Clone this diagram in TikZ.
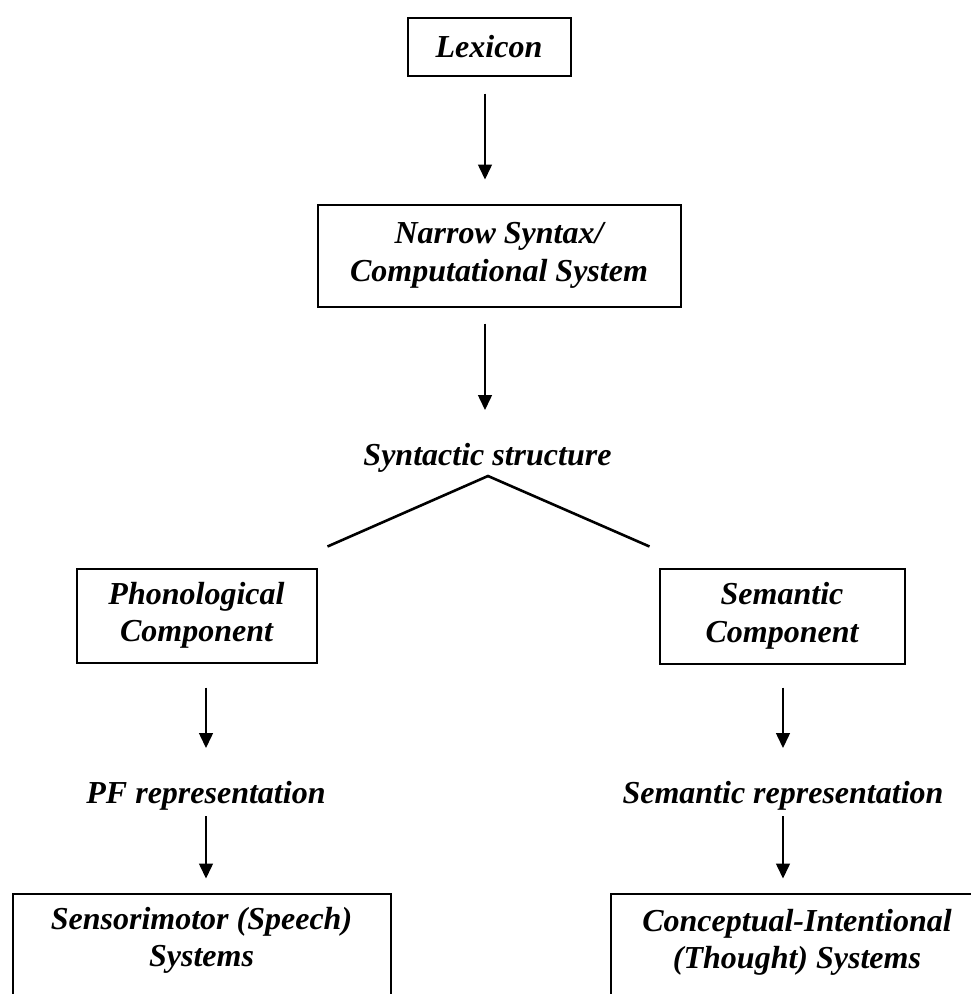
\documentclass[tikz,border=0pt]{standalone}
\usepackage{fontspec}
\setmainfont{Liberation Serif}
\usetikzlibrary{arrows.meta}
\begin{document}
\begin{tikzpicture}[x=1pt,y=-1pt,
  lbl/.style={font=\fontsize{32}{37.5}\selectfont\bfseries\itshape, align=center, inner sep=0pt},
  box/.style={lbl, draw, line width=2pt},
  arr/.style={line width=1.5pt, -{Triangle[length=15pt,width=14pt]}},
  branch/.style={line width=2.6pt},
]
\useasboundingbox (0,0) rectangle (971,994);

% boxes of the derivation
\node[box, minimum width=163pt, minimum height=58pt] (lex) at (489,46.5) {Lexicon};
\node[box, minimum width=363pt, minimum height=102pt] (ns) at (499,255.5) {Narrow Syntax/\\Computational System};
\node[box, minimum width=240pt, minimum height=94pt] (phon) at (196.5,615.5) {Phonological\\Component};
\node[box, minimum width=245pt, minimum height=95pt] (sem) at (782,616) {Semantic\\Component};

% interface systems, running off the lower edge
\begin{scope}
  \clip (0,0) rectangle (971,994);
  \node[box, minimum width=378pt, minimum height=130pt, anchor=north] (sm) at (201.5,892.5) {};
  \node[box, minimum width=374pt, minimum height=130pt, anchor=north] (ci) at (798,892.5) {};
\end{scope}
\node[lbl, anchor=north] (smtxt) at (201.5,907) {Sensorimotor (Speech)\\Systems};
\node[lbl, anchor=north] (citxt) at (797,909) {Conceptual-Intentional\\(Thought) Systems};

% free-standing labels
\node[lbl, anchor=base] (syn) at (487.5,465) {Syntactic structure};
\node[lbl, anchor=base] (pf) at (206,803) {PF representation};
\node[lbl, anchor=base] (semrep) at (783,803) {Semantic representation};

% arrows
\draw[arr, shorten <=17pt, shorten >=24pt] ([xshift=-4pt]lex.south) -- ([xshift=-4pt]lex.south |- ns.north);
\draw[arr, shorten <=16pt, shorten >=55pt] ([xshift=-14pt]ns.south) -- ([xshift=-14pt]ns.south |- syn.base);
\draw[arr, shorten <=24pt, shorten >=55pt] (pf.base |- phon.south) -- (pf.base);
\draw[arr, shorten <=13pt, shorten >=14pt] (pf.base) -- (pf.base |- sm.north);
\draw[arr, shorten <=23pt, shorten >=55pt] (semrep.base |- sem.south) -- (semrep.base);
\draw[arr, shorten <=13pt, shorten >=14pt] (semrep.base) -- (semrep.base |- ci.north);

% branching of the syntactic structure
\draw[branch] ([shift={(10,-21)}]phon.north east) -- ([shift={(0.5,11)}]syn.base) -- ([shift={(-9,-21)}]sem.north west);
\end{tikzpicture}
\end{document}
